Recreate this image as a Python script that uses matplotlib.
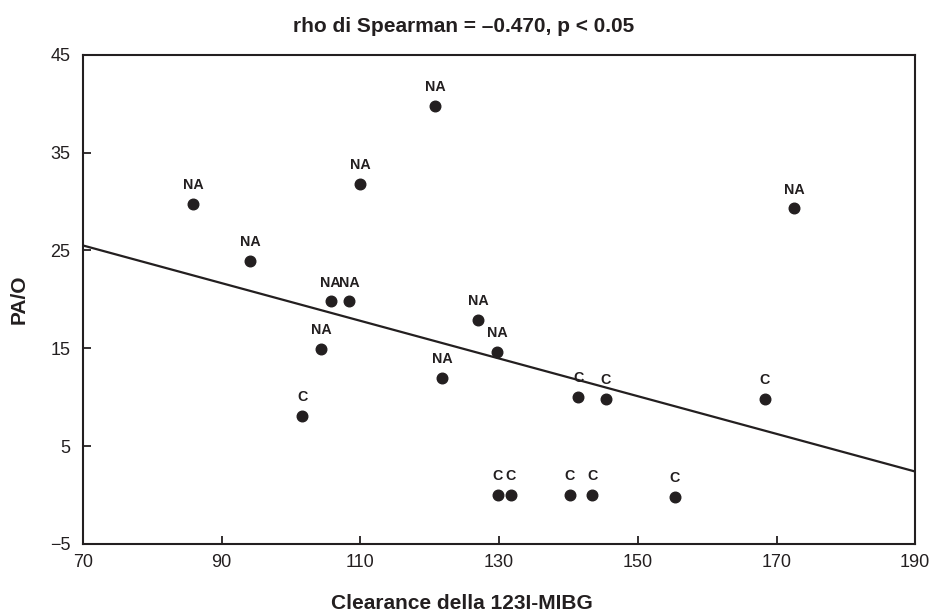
import numpy as np
import matplotlib
matplotlib.use("Agg")
import matplotlib.pyplot as plt

# data
clearance = [85.9, 94.1, 101.6, 104.3, 105.7, 108.4, 110.0, 120.8, 121.8, 127.0,
             129.7, 129.8, 131.7, 140.2, 143.4, 155.3, 141.4, 145.4, 168.3, 172.5]
pao = [29.8, 23.9, 8.1, 14.9, 19.8, 19.8, 31.8, 39.8, 12.0, 17.9,
       14.6, 0.0, 0.0, 0.0, 0.0, -0.2, 10.0, 9.8, 9.8, 29.3]
groups = ["NA", "NA", "C", "NA", "NA", "NA", "NA", "NA", "NA", "NA",
          "NA", "C", "C", "C", "C", "C", "C", "C", "C", "NA"]
xticks = [70, 90, 110, 130, 150, 170, 190]
yticks = [-5, 5, 15, 25, 35, 45]

ink = "#231f20"
plt.rcParams['font.family'] = ['Liberation Sans', 'DejaVu Sans']

fig = plt.figure(figsize=(9.32, 6.14), dpi=100)
ax = fig.add_axes([0.089, 0.1143, 0.893, 0.7963])

ax.scatter(clearance, pao, s=58, color=ink, zorder=3)
for x, y, g in zip(clearance, pao, groups):
    ax.annotate(g, (x, y), xytext=(0, 8.5), textcoords="offset points",
                ha="center", va="bottom", fontsize=10.3, fontweight="bold",
                color=ink)

# regression line
slope, inter = np.polyfit(clearance, pao, 1)
xl = np.array([xticks[0], xticks[-1]])
ax.plot(xl, inter + slope * xl, color=ink, lw=1.6, zorder=2)

ax.set_xlim(xticks[0], xticks[-1])
ax.set_ylim(yticks[0], yticks[-1])
ax.set_xticks(xticks)
ax.set_yticks(yticks)
ax.tick_params(direction="in", length=6, width=1.3, color=ink,
               labelsize=13, labelcolor=ink)
ax.tick_params(axis="y", pad=9)
ax.tick_params(axis="x", pad=7)
for sp in ax.spines.values():
    sp.set_linewidth(1.5)
    sp.set_color(ink)

fig.text(0.497, 0.948, "rho di Spearman = \u20130.470, p < 0.05", fontsize=15,
         fontweight="bold", color=ink, ha="center", va="baseline")
fig.text(0.496, 0.008, "Clearance della 123I-MIBG", fontsize=15,
         fontweight="bold", color=ink, ha="center", va="baseline")
fig.text(0.021, 0.513, "PA/O", fontsize=15, fontweight="bold", color=ink,
         ha="center", va="center", rotation=90)

fig.savefig("out.png", dpi=100)
